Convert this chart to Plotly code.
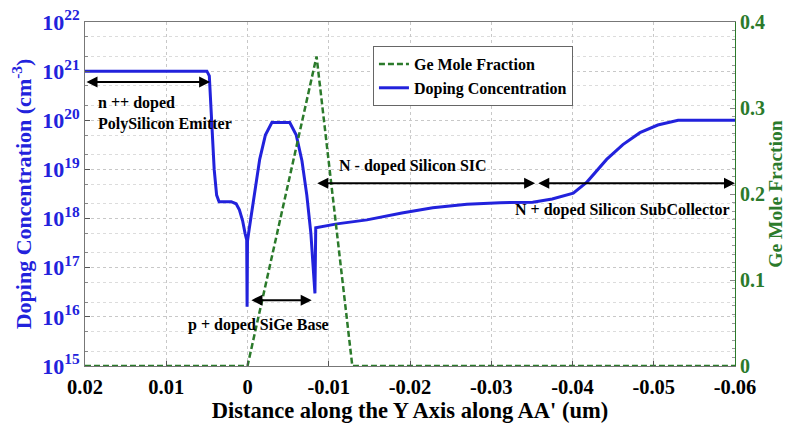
import plotly.graph_objects as go

# Doping profile along the cut line (um, cm^-3)
dop_x = [0.020, 0.0050, 0.0047, 0.0044, 0.0041, 0.0038, 0.0035, 0.0020, 0.0014, 0.0010,
         0.0006, 0.0003, 0.0001, 0.00005, 0.0000, -0.0002, -0.0005, -0.0009, -0.0015,
         -0.0022, -0.0030, -0.0052, -0.0060, -0.0067, -0.0073, -0.0078, -0.0083, -0.0084,
         -0.0110, -0.0147, -0.0190, -0.0228, -0.0270, -0.0311, -0.0351, -0.0375, -0.0401,
         -0.0418, -0.0442, -0.0462, -0.0483, -0.0505, -0.0530, -0.0600]
dop_n = [1e21, 1e21, 8e20, 1e20, 1e19, 3e18, 2.2e18, 2.2e18, 2.0e18, 1.5e18,
         9e17, 5e17, 3.7e17, 1.6e16, 3.5e17, 6e17, 1.3e18, 4e18, 1.6e19,
         5e19, 9e19, 9e19, 5e19, 1.5e19, 3e18, 5e17, 3e16, 6.5e17,
         7.8e17, 9.4e17, 1.3e18, 1.66e18, 1.95e18, 2.1e18, 2.15e18, 2.5e18, 3.3e18,
         5.6e18, 1.6e19, 3.2e19, 5.6e19, 8e19, 1e20, 1e20]

# Ge mole fraction in the SiGe base
ge_x = [0.020, 0.000, -0.0085, -0.0129, -0.060]
ge_f = [0.0, 0.0, 0.36, 0.0, 0.0]

x_ticks = [0.02, 0.01, 0, -0.01, -0.02, -0.03, -0.04, -0.05, -0.06]
x_tick_text = ["0.02", "0.01", "0", "-0.01", "-0.02", "-0.03", "-0.04", "-0.05", "-0.06"]
y_exps = [15, 16, 17, 18, 19, 20, 21, 22]
ge_ticks = [0, 0.1, 0.2, 0.3, 0.4]
ge_tick_text = ["0", "0.1", "0.2", "0.3", "0.4"]

BLUE = "#2222dc"
GREEN = "#2b7a2b"
SERIF = "Liberation Serif"

fig = go.Figure()
fig.add_trace(go.Scatter(
    x=ge_x, y=ge_f, yaxis="y2", mode="lines", name="Ge Mole Fraction",
    line=dict(color=GREEN, width=2.5, dash="6px,3px"), legendrank=1))
fig.add_trace(go.Scatter(
    x=dop_x, y=dop_n, mode="lines", name="Doping Concentration",
    line=dict(color=BLUE, width=3), legendrank=2))

grid = dict(showgrid=True, gridcolor="#c8c8c8", griddash="dot", gridwidth=1)

fig.update_layout(
    width=794, height=424,
    margin=dict(l=85, r=59, t=22, b=58, autoexpand=False),
    paper_bgcolor="white", plot_bgcolor="white",
    font=dict(family=SERIF, color="black"),
    xaxis=dict(
        range=[0.02, -0.06], tickvals=x_ticks, ticktext=x_tick_text,
        tickfont=dict(family=SERIF, size=20.5, weight=700, color="black"),
        ticks="inside", ticklen=5, tickcolor="#555", automargin=False,
        ticklabelstandoff=2,
        showline=True, linecolor="#777", mirror=True, zeroline=False,
        title=dict(text="Distance along the Y Axis along AA' (um)",
                   font=dict(family=SERIF, size=22.5, weight=700, color="black"),
                   standoff=2),
        **grid),
    yaxis=dict(
        type="log", range=[15, 22], automargin=False,
        tickvals=[10.0 ** e for e in y_exps],
        ticktext=[f"10<sup>{e}</sup>" for e in y_exps],
        tickfont=dict(family=SERIF, size=22, weight=700, color=BLUE),
        ticks="inside", ticklen=5, tickcolor="#555",
        showline=True, linecolor="#777", mirror=True, zeroline=False,
        minor=dict(showgrid=True, gridcolor="#dcdcdc", griddash="dot",
                   ticks="inside", ticklen=3, tickcolor="#888"),
        title=dict(text="Doping Concentration (cm<sup>-3</sup>)",
                   font=dict(family=SERIF, size=22, weight=700, color=BLUE),
                   standoff=4),
        **grid),
    yaxis2=dict(
        overlaying="y", side="right", range=[0, 0.4], automargin=False,
        tickvals=ge_ticks, ticktext=ge_tick_text,
        tickfont=dict(family=SERIF, size=20, weight=700, color=GREEN),
        ticks="inside", ticklen=5, tickcolor="#888",
        minor=dict(dtick=0.01, ticks="inside", ticklen=3, tickcolor="#999"),
        showline=True, linecolor=GREEN, showgrid=False, zeroline=False,
        title=dict(text="Ge Mole Fraction",
                   font=dict(family=SERIF, size=19.5, weight=700, color=GREEN),
                   standoff=4)),
    legend=dict(
        x=0.443, y=0.93, xanchor="left", yanchor="top",
        bgcolor="white", bordercolor="#666", borderwidth=1,
        font=dict(family=SERIF, size=16, weight=700, color="black"),
        tracegroupgap=0, itemwidth=30),
)

lab_font = dict(family=SERIF, size=16, weight=700, color="black")


def double_arrow(x0, x1, ylog):
    fig.add_annotation(x=x1, y=ylog, ax=x0, ay=ylog, xref="x", yref="y",
                       axref="x", ayref="y", text="", showarrow=True,
                       arrowhead=2, arrowside="end+start", arrowsize=1.1,
                       arrowwidth=2, arrowcolor="black", standoff=0, startstandoff=0)


def label(x, ylog, text, anchor="left"):
    fig.add_annotation(x=x, y=ylog, xref="x", yref="y", text=text, showarrow=False,
                       xanchor=anchor, yanchor="middle", font=lab_font)


# Region markers
double_arrow(0.020, 0.0046, 20.78)
label(0.0186, 20.35, "n ++ doped")
label(0.0186, 19.92, "PolySilicon Emitter")

double_arrow(-0.0003, -0.0079, 16.34)
label(-0.0013, 15.83, "p + doped SiGe Base", anchor="center")

double_arrow(-0.0084, -0.0354, 18.72)
label(-0.0204, 19.08, "N - doped Silicon SIC", anchor="center")

double_arrow(-0.0356, -0.0600, 18.72)
label(-0.0595, 18.17, "N + doped Silicon SubCollector", anchor="right")

fig.write_html("out.html")
